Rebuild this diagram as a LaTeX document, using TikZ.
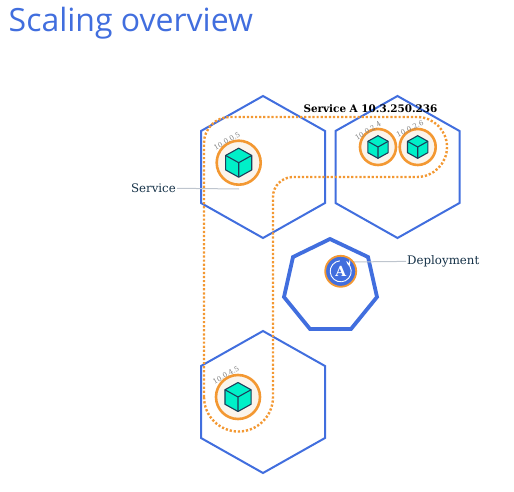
\documentclass[tikz,border=0pt]{standalone}
\usepackage{fontspec}
\setmainfont{DejaVu Serif}
\newfontfamily\titlefont{Open Sans}
\definecolor{kubeblue}{RGB}{65,110,222}
\definecolor{kubeorange}{RGB}{243,152,50}
\definecolor{kubeteal}{RGB}{0,240,200}
\definecolor{kubedark}{RGB}{28,62,90}
\definecolor{podfill}{RGB}{251,244,236}
\definecolor{leadgrey}{RGB}{190,197,206}
\tikzset{
  hexline/.style={draw=kubeblue,line width=2pt,line join=miter},
  podcircle/.style={circle,draw=kubeorange,fill=podfill,line width=2.6pt,inner sep=0pt},
  podip/.style={text=black!50,font=\fontsize{7}{8}\selectfont,inner sep=0pt},
  leadline/.style={draw=leadgrey,line width=1pt},
  labeltext/.style={font=\fontsize{11.8}{14}\selectfont,text=kubedark!80!black,inner sep=1pt},
  pics/podcube/.style={code={
    \draw[kubedark,fill=kubeteal,line width=1.1pt,line join=round]
      (0,-1) -- (0.9,-0.5) -- (0.9,0.5) -- (0,1) -- (-0.9,0.5) -- (-0.9,-0.5) -- cycle;
    \draw[kubedark,line width=1.1pt,line join=round]
      (-0.9,-0.5) -- (0,0) -- (0.9,-0.5) (0,0) -- (0,1);
  }}
}
\begin{document}
\begin{tikzpicture}[x=1pt,y=-1pt]
\useasboundingbox (0,0) rectangle (514,492);
\node[anchor=base west,inner sep=0pt,text=kubeblue,font=\titlefont\fontsize{32}{36}\selectfont] (title) at (8.5,32) {Scaling overview};
% nodes
\foreach \x/\y in {263/167,397.5/167,263/402}{
\draw[hexline] (\x,\y-71) -- (\x+62,\y-36) -- (\x+62,\y+36) -- (\x,\y+71) -- (\x-62,\y+36) -- (\x-62,\y-36) -- cycle;
}
% master
\draw[draw=kubeblue,line width=3.8pt,line join=miter] (330,239) -- (368,257) -- (377,297) -- (351,329) -- (310,329) -- (284,297) -- (293,257) -- cycle;
% leader lines
\node[labeltext,anchor=east] (servicelabel) at (177,188) {Service};
\coordinate (serviceend) at (239,189);
\draw[leadline] (servicelabel) -- (serviceend);
\node[labeltext,anchor=west] (deploymentlabel) at (406,261) {Deployment};
\coordinate (deploymentend) at (350,262);
\draw[leadline] (deploymentend) -- (deploymentlabel);
% pods
\foreach \name/\x/\y/\r/\c/\ip/\lx/\ly/\a in {podone/238.7/162.7/22/14.5/10.0.0.5/227/141/30,podtwo/378/147/18/11.3/10.0.2.4/368/131/32,podthree/417.7/147/18/11.3/10.0.2.6/410/128.7/25,podfour/238/397/22/14.5/10.0.4.5/226/375/30}{
\node[podcircle,minimum size=2*\r pt] (\name) at (\x,\y) {};
\pic[scale=\c] at (\x,\y) {podcube};
\node[podip,rotate=\a] (\name ip) at (\lx,\ly) {\ip};
}
% deployment
\node[circle,draw=kubeorange,fill=kubeblue,line width=1.8pt,minimum size=31pt,inner sep=0pt] (deployment) at (340.7,271.3) {};
\draw[white,line width=0.9pt] (340.7,271.3) ++(-50:10.5) arc (-50:265:10.5);
\draw[white,line width=0.9pt] (346.5,261.5) -- (349.5,264.5) -- (349.8,260.5);
\node[text=white,inner sep=0pt,font=\bfseries\fontsize{14}{14}\selectfont] (deploymentA) at (340.7,271.5) {A};
% service
\draw[draw=kubeorange,line width=2.4pt,dash pattern=on 2.2pt off 1.9pt] (204,397) -- (204,143) arc (180:270:26) -- (417,117) arc (-90:90:30) -- (293,177) arc (270:180:20) -- (273,397) arc (0:180:34.5);
\node[font=\bfseries\fontsize{10.4}{12}\selectfont,text=black,inner sep=0pt] (servicetitle) at (370.5,109) {Service A 10.3.250.236};
\end{tikzpicture}
\end{document}
